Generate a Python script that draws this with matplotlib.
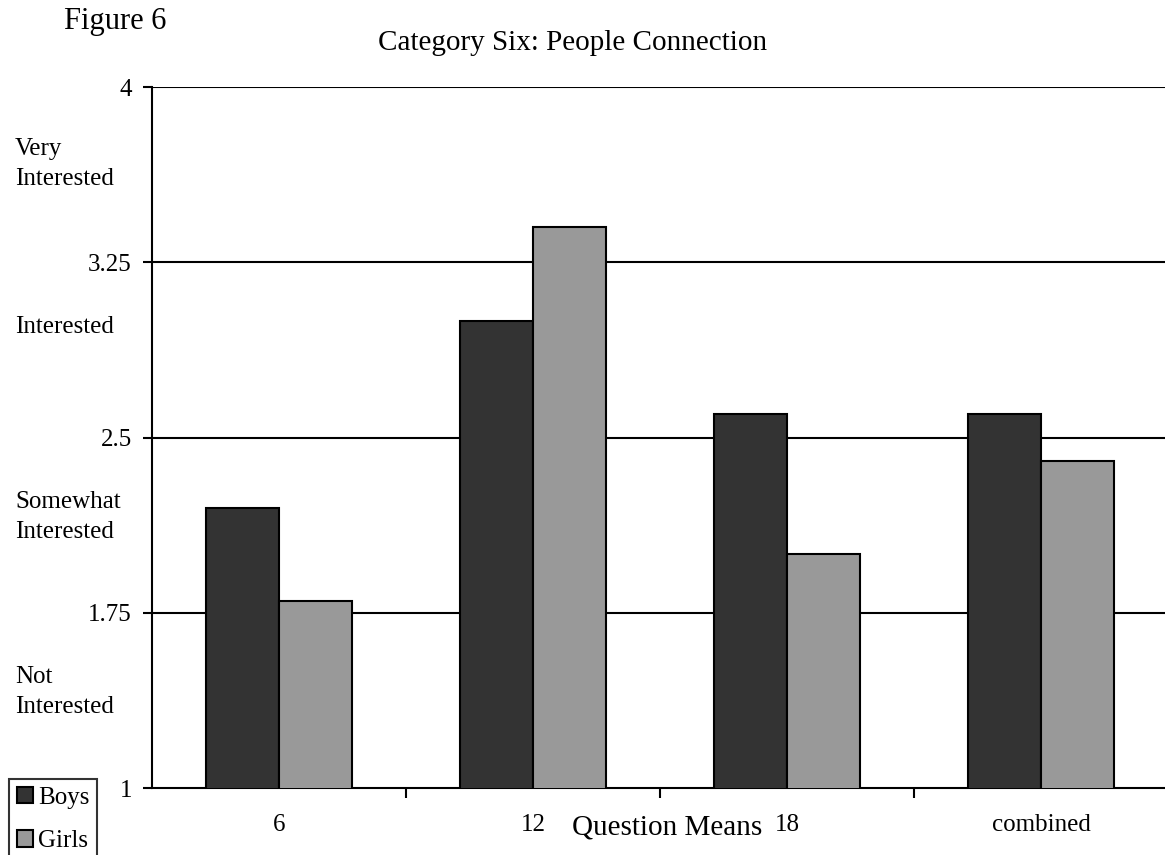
import numpy as np
import matplotlib
matplotlib.use("Agg")
from matplotlib import pyplot as plt
from matplotlib.patches import Patch

plt.rcParams['font.family'] = ['Liberation Serif', 'DejaVu Serif']

# question means per group
questions = ['6', '12', '18', 'combined']
boys = [2.2, 3.0, 2.6, 2.6]
girls = [1.8, 3.4, 2.0, 2.4]
yticks = [1, 1.75, 2.5, 3.25, 4]
ytick_labels = ['1', '1.75', '2.5', '3.25', '4']
scale_labels = ['Very\nInterested', 'Interested', 'Somewhat\nInterested', 'Not\nInterested']

W, H = 1165, 855
fig = plt.figure(figsize=(W / 100, H / 100), dpi=100)
ax = fig.add_axes([152 / W, 67 / H, 1016 / W, 701 / H])

x = np.arange(len(questions))
w = 0.287
ax.bar(x - w / 2, boys, w, color='#333333', edgecolor='black', linewidth=1.5, zorder=3)
ax.bar(x + w / 2, girls, w, color='#999999', edgecolor='black', linewidth=1.5, zorder=3)

ax.set_ylim(1, 4)
ax.set_xlim(-0.5, len(questions) - 0.5)

# horizontal lines at each scale step
for yv in yticks[1:]:
    ax.axhline(yv, color='black', linewidth=1.5, zorder=1)

ax.set_yticks(yticks)
ax.set_yticklabels(ytick_labels, fontsize=18)
ax.set_xticks(x[:-1] + 0.5)
ax.set_xticklabels([])
ax.tick_params(axis='y', length=6.5, width=1.5, direction='out', pad=8)
ax.tick_params(axis='x', length=7, width=1.5, direction='out')
for i, q in enumerate(questions):
    ax.text(i, 1 - (825 - 788) / 233.67, q, ha='center', va='center', fontsize=18)

ax.spines['top'].set_visible(False)
ax.spines['right'].set_visible(False)
ax.spines['left'].set_linewidth(1.5)
ax.spines['bottom'].set_linewidth(1.5)

# interest scale descriptions on the left
for lab, yp in zip(scale_labels, [164, 327, 517, 692]):
    fig.text(15 / W, 1 - yp / H, lab, ha='left', va='center', fontsize=18, linespacing=1.5)

fig.text(115 / W, 1 - 21 / H, 'Figure 6', ha='center', va='center', fontsize=22)
fig.text(573 / W, 1 - 43 / H, 'Category Six: People Connection', ha='center', va='center', fontsize=21)
fig.text(667 / W, 1 - 827 / H, 'Question Means', ha='center', va='center', fontsize=21)

handles = [Patch(facecolor='#333333', edgecolor='black', linewidth=1.5, label='Boys'),
           Patch(facecolor='#999999', edgecolor='black', linewidth=1.5, label='Girls')]
leg = fig.legend(handles=handles, loc='upper left', bbox_to_anchor=(9 / W, 1 - 779 / H),
                 fontsize=18, frameon=True, fancybox=False, handlelength=0.65, handleheight=0.65,
                 handletextpad=0.2, borderpad=0.3, labelspacing=0.85, borderaxespad=0)
leg.get_frame().set_edgecolor('black')
leg.get_frame().set_linewidth(1.5)

fig.savefig('out.png', dpi=100)
